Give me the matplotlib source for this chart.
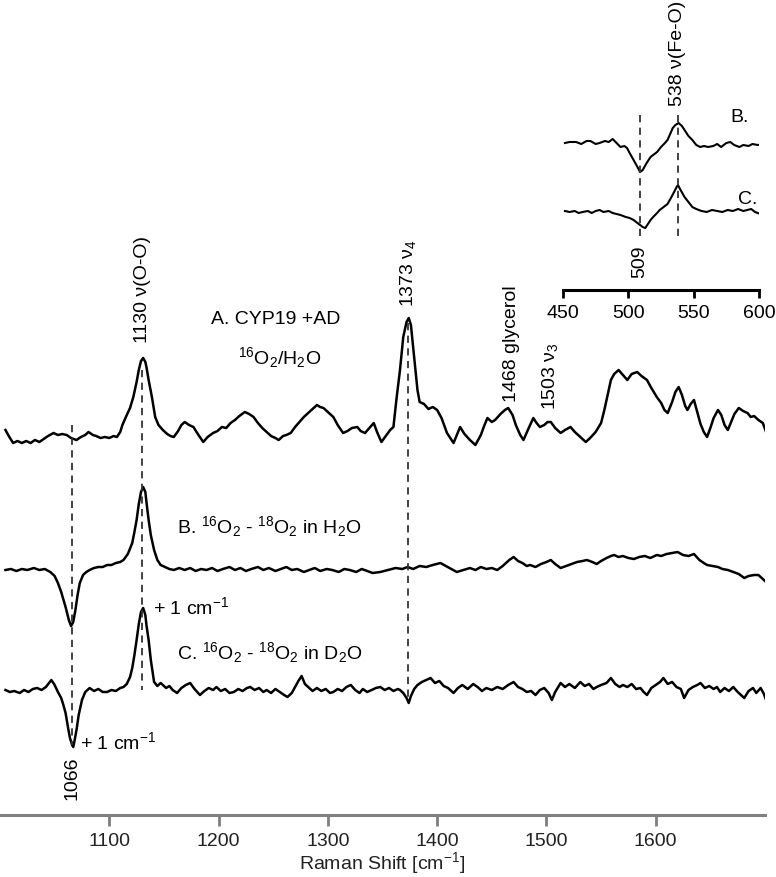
import matplotlib

matplotlib.use("Agg")
import matplotlib.pyplot as plt

plt.rcParams["font.family"] = ["Liberation Sans", "DejaVu Sans"]
plt.rcParams["mathtext.default"] = "regular"

# trace A: 16O2/H2O, relative intensity vs Raman shift (cm-1)
a_x = [1005, 1008, 1012, 1016, 1020, 1024, 1028, 1032, 1036, 1040, 1044, 1049, 1053, 1057, 1061, 1065,
       1070, 1074, 1078, 1081, 1085, 1088, 1092, 1096, 1100, 1104, 1107, 1110, 1112, 1116, 1119, 1122,
       1125, 1127, 1129, 1131, 1133, 1134, 1136, 1139, 1142, 1145, 1149, 1153, 1156, 1159, 1163, 1166,
       1169, 1173, 1177, 1181, 1186, 1190, 1195, 1199, 1203, 1207, 1211, 1215, 1219, 1224, 1228, 1232,
       1236, 1240, 1244, 1248, 1252, 1255, 1259, 1262, 1266, 1270, 1274, 1278, 1282, 1286, 1290, 1293,
       1296, 1300, 1305, 1309, 1314, 1318, 1322, 1327, 1330, 1334, 1338, 1342, 1345, 1349, 1353, 1357,
       1360, 1363, 1366, 1369, 1372, 1374, 1376, 1378, 1380, 1382, 1384, 1388, 1392, 1396, 1400, 1404,
       1409, 1412, 1415, 1418, 1421, 1425, 1430, 1435, 1440, 1443, 1446, 1450, 1453, 1458, 1462, 1465,
       1469, 1472, 1476, 1479, 1483, 1488, 1491, 1494, 1498, 1501, 1504, 1508, 1513, 1517, 1522, 1526,
       1531, 1536, 1540, 1545, 1550, 1553, 1556, 1559, 1562, 1566, 1570, 1574, 1578, 1583, 1587, 1592,
       1596, 1601, 1605, 1608, 1611, 1615, 1618, 1621, 1624, 1627, 1629, 1632, 1635, 1638, 1641, 1644,
       1647, 1650, 1653, 1657, 1660, 1663, 1666, 1669, 1672, 1676, 1680, 1684, 1687, 1690, 1694, 1698,
       1701]
a_y = [10, 4, -3, -1, -3, -1, -3, 0, -2, 1, 4, 7, 5, 6, 5, 2,
       0, 3, 5, 8, 5, 4, 2, 3, 2, 4, 3, 8, 15, 25, 32, 43,
       58, 70, 79, 82, 78, 73, 60, 43, 23, 15, 10, 6, 4, 3, 9, 15,
       18, 15, 13, 6, -2, 3, 7, 9, 13, 12, 17, 20, 24, 28, 26, 23,
       17, 12, 8, 4, 2, 0, 4, 5, 7, 13, 18, 23, 27, 31, 35, 33,
       32, 28, 23, 15, 7, 9, 12, 13, 9, 7, 12, 17, 8, -2, 4, 10,
       13, 43, 70, 103, 118, 122, 115, 93, 70, 50, 38, 36, 31, 33, 30, 22,
       7, 2, -3, 5, 13, 6, 0, -5, 5, 14, 22, 18, 20, 26, 30, 32,
       25, 15, 5, 0, 10, 22, 17, 13, 15, 18, 18, 12, 7, 10, 13, 8,
       3, -2, 2, 8, 17, 30, 45, 60, 66, 70, 65, 60, 66, 68, 64, 60,
       52, 43, 37, 30, 27, 38, 48, 53, 45, 34, 30, 36, 40, 28, 16, 8,
       3, 12, 22, 30, 25, 15, 10, 18, 26, 32, 29, 27, 23, 24, 20, 17,
       8]

# trace B: 16O2 - 18O2 in H2O
b_x = [1005, 1010, 1015, 1020, 1025, 1031, 1036, 1041, 1046, 1050, 1053, 1056, 1060, 1063, 1065, 1067,
       1069, 1071, 1073, 1076, 1079, 1082, 1086, 1090, 1094, 1098, 1102, 1106, 1110, 1113, 1117, 1121,
       1123, 1125, 1127, 1129, 1131, 1133, 1134, 1136, 1138, 1141, 1144, 1147, 1151, 1155, 1159, 1164,
       1169, 1174, 1179, 1184, 1189, 1194, 1199, 1204, 1210, 1215, 1220, 1225, 1230, 1236, 1241, 1246,
       1252, 1257, 1262, 1267, 1272, 1278, 1283, 1288, 1293, 1299, 1304, 1310, 1315, 1320, 1326, 1331,
       1336, 1341, 1348, 1355, 1362, 1368, 1373, 1378, 1384, 1390, 1396, 1403, 1408, 1413, 1418, 1424,
       1430, 1435, 1440, 1445, 1450, 1455, 1460, 1466, 1470, 1474, 1478, 1482, 1485, 1490, 1495, 1500,
       1504, 1508, 1513, 1518, 1523, 1528, 1533, 1537, 1542, 1546, 1550, 1555, 1559, 1562, 1566, 1570,
       1575, 1580, 1585, 1590, 1595, 1601, 1605, 1610, 1615, 1620, 1625, 1630, 1635, 1640, 1644, 1647,
       1652, 1657, 1661, 1666, 1671, 1676, 1681, 1685, 1690, 1694, 1697, 1701]
b_y = [0, 1, -1, 1, 0, 2, 0, 1, -2, -6, -13, -22, -37, -50, -56, -52,
       -40, -25, -13, -5, -2, 0, 2, 3, 3, 5, 5, 7, 8, 10, 16, 27,
       38, 50, 66, 78, 83, 78, 68, 50, 35, 20, 10, 5, 3, 1, 0, 2,
       0, 2, -1, 1, 0, 2, -1, 1, 3, 0, 2, -1, 1, 3, 0, 2,
       -1, 1, 3, 0, 1, -2, 0, 2, -1, 1, 0, -2, 1, 0, -2, 1,
       -1, -3, -2, 0, 2, 1, 3, 1, 4, 3, 5, 7, 4, 1, -2, 0,
       2, 0, 3, 1, 2, 0, 4, 10, 13, 9, 7, 4, 5, 3, 6, 8,
       10, 6, 2, 4, 6, 8, 9, 10, 8, 6, 9, 12, 14, 15, 13, 14,
       12, 11, 13, 14, 12, 15, 14, 16, 17, 18, 15, 14, 16, 10, 7, 5,
       4, 3, 1, 0, -2, -4, -8, -6, -5, -5, -8, -12]

# trace C: 16O2 - 18O2 in D2O
c_x = [1005, 1009, 1013, 1018, 1022, 1026, 1030, 1034, 1038, 1042, 1047, 1050, 1053, 1056, 1058, 1060,
       1062, 1064, 1066, 1067, 1068, 1070, 1072, 1075, 1078, 1082, 1086, 1090, 1094, 1098, 1102, 1106,
       1110, 1113, 1116, 1119, 1121, 1123, 1125, 1127, 1129, 1131, 1133, 1134, 1136, 1138, 1140, 1141,
       1144, 1147, 1149, 1152, 1155, 1158, 1162, 1166, 1170, 1174, 1178, 1183, 1187, 1191, 1195, 1198,
       1202, 1206, 1210, 1214, 1218, 1222, 1226, 1229, 1233, 1237, 1241, 1244, 1248, 1252, 1256, 1260,
       1263, 1267, 1270, 1273, 1276, 1279, 1283, 1286, 1290, 1294, 1298, 1302, 1305, 1309, 1313, 1317,
       1321, 1325, 1329, 1332, 1336, 1340, 1344, 1348, 1352, 1356, 1360, 1364, 1366, 1369, 1372, 1374,
       1376, 1379, 1382, 1386, 1390, 1394, 1398, 1402, 1406, 1410, 1415, 1419, 1423, 1428, 1433, 1437,
       1441, 1445, 1450, 1455, 1460, 1465, 1470, 1474, 1478, 1482, 1486, 1490, 1494, 1498, 1502, 1505,
       1508, 1513, 1517, 1521, 1526, 1531, 1535, 1539, 1543, 1546, 1550, 1555, 1559, 1563, 1567, 1570,
       1574, 1578, 1582, 1586, 1589, 1592, 1596, 1600, 1604, 1607, 1611, 1615, 1619, 1623, 1626, 1630,
       1634, 1638, 1641, 1645, 1649, 1653, 1656, 1659, 1663, 1667, 1671, 1675, 1678, 1681, 1685, 1689,
       1692, 1696, 1699, 1701]
c_y = [0, -2, -1, -3, 0, -2, 1, 2, 0, 3, 10, 5, -2, -8, -15, -23,
       -36, -48, -55, -57, -52, -40, -25, -10, -2, 2, -1, 1, -2, -2, 0, -1,
       2, 3, 6, 13, 22, 35, 50, 66, 78, 82, 75, 65, 50, 30, 15, 8,
       4, 7, 5, 2, 4, 0, -3, 2, 5, 7, 1, -5, -1, 2, 0, 3,
       -1, 1, -3, -2, 1, -1, 2, 3, 0, 2, -2, 0, -3, 1, -2, -5,
       -7, -3, 3, 9, 14, 6, 2, -1, 2, -1, 1, -3, -2, 1, -1, 3,
       5, 0, -3, 1, -2, 0, 2, 3, 0, 2, -1, 1, 0, -3, -8, -13,
       -6, 1, 5, 8, 10, 12, 7, 9, 4, 2, -3, 2, 5, 1, 6, 3,
       -1, 2, 0, 3, 1, 5, 8, 3, 1, -2, -1, -5, 0, 2, -3, -10,
       -2, 7, 3, 6, 2, 8, 4, 6, 1, 3, 5, 7, 12, 6, 3, 5,
       3, 6, 1, 2, -2, -5, 2, 5, 8, 12, 6, 8, 3, 1, -8, 0,
       3, 5, 7, 2, 4, 1, 3, -2, 2, -1, 3, -2, -5, -8, -1, 2,
       -3, 2, -4, -10]

main_offsets = {"A": 375, "B": 245, "C": 125}

# inset: 450-600 cm-1 region
ib_x = [451.5, 455, 460, 464, 468, 471, 475, 478, 482, 485, 488, 491, 494, 497, 499, 501, 504, 507, 509,
        511, 514, 517, 520, 522, 525, 528, 530, 532, 534, 536, 538.5, 541, 543, 546, 549, 552, 555, 558,
        561, 565, 568, 571, 575, 578, 581, 585, 588, 592, 595, 599, 603]
ib_y = [0, 1, 1, -1, 2, 2, -1, 0, 2, 1, 4, 0, -4, -3, -5, -10, -17, -24, -29,
        -27, -20, -14, -11, -9, -4, 0, 3, 9, 15, 18, 20, 17, 13, 7, 3, -2, -4, -3,
        -4, -3, -1, -4, 0, 1, -2, -4, -2, -3, -1, -2, -1]
ic_x = [451.5, 455, 459, 462, 465, 469, 472, 475, 478, 481, 485, 488, 491, 494, 498, 501, 504, 507, 509,
        511, 513, 515, 517, 519, 522, 524, 527, 530, 533, 535, 537, 538, 540, 543, 546, 549, 552, 556,
        560, 564, 568, 572, 576, 580, 584, 588, 591, 594, 597, 601]
ic_y = [1, 0, 1, -1, 0, 1, -1, 1, 2, 0, 1, -1, -2, -3, -5, -6, -8, -11, -13,
        -15, -16, -12, -8, -5, -1, 2, 5, 8, 15, 20, 25, 27, 22, 15, 10, 5, 3, 1,
        0, 2, 1, 0, 2, 1, 3, 1, 2, 3, 0, -2]
inset_offsets = {"B": 147, "C": 78}
inset_ticks = [450, 500, 550, 600]
main_ticks = [1100, 1200, 1300, 1400, 1500, 1600]

FS = 14
W, H = 776, 877
fig = plt.figure(figsize=(W / 100, H / 100), dpi=100)

ax = fig.add_axes([0, 1 - 815 / H, 765 / W, 815 / H])
ax.plot(a_x, [v + main_offsets["A"] for v in a_y], color="black", lw=1.8)
ax.plot(b_x, [v + main_offsets["B"] for v in b_y], color="black", lw=1.8)
ax.plot(c_x, [v + main_offsets["C"] for v in c_y], color="black", lw=1.8)

dash = dict(color="#333333", lw=1.3, ls=(0, (4, 3)))
ax.plot([1066, 1066], [390, 70], **dash)
ax.plot([1130, 1130], [445, 125], **dash)
ax.plot([1373, 1373], [492, 113], **dash)

ax.text(1130, 472, "1130 ν(O-O)", rotation=90, ha="center", va="bottom", fontsize=FS)
ax.text(1373, 508, "1373 ν$_4$", rotation=90, ha="center", va="bottom", fontsize=FS)
ax.text(1468, 413, "1468 glycerol", rotation=90, ha="center", va="bottom", fontsize=FS)
ax.text(1503, 405, "1503 ν$_3$", rotation=90, ha="center", va="bottom", fontsize=FS)
ax.text(1066, 58, "1066", rotation=90, ha="center", va="top", fontsize=FS)
ax.text(1252, 495, "A. CYP19 +AD", ha="center", va="center", fontsize=FS)
ax.text(1256, 457, "$^{16}$O$_2$/H$_2$O", ha="center", va="center", fontsize=FS)
ax.text(1162, 288, "B. $^{16}$O$_2$ - $^{18}$O$_2$ in H$_2$O", ha="left", va="center", fontsize=FS)
ax.text(1162, 162, "C. $^{16}$O$_2$ - $^{18}$O$_2$ in D$_2$O", ha="left", va="center", fontsize=FS)
ax.text(1140, 208, "+ 1 cm$^{-1}$", ha="left", va="center", fontsize=FS)
ax.text(1073, 73, "+ 1 cm$^{-1}$", ha="left", va="center", fontsize=FS)

ax.set_xlim(1000, 1700)
ax.set_ylim(0, 815)
for s in ["left", "right", "top"]:
    ax.spines[s].set_visible(False)
ax.spines["bottom"].set_color("#7f7f7f")
ax.spines["bottom"].set_linewidth(2.2)
ax.set_yticks([])
ax.set_xticks(main_ticks)
ax.tick_params(axis="x", direction="out", length=8, width=2, color="#7f7f7f",
               labelsize=FS, labelcolor="#222222", pad=5)
ax.set_xlabel("Raman Shift [cm$^{-1}$]", fontsize=FS, color="#222222", labelpad=0)
ax.patch.set_alpha(0)

ins = fig.add_axes([563 / W, 1 - 290 / H, 196 / W, 290 / H])
ins.plot(ib_x, [v + inset_offsets["B"] for v in ib_y], color="black", lw=1.5)
ins.plot(ic_x, [v + inset_offsets["C"] for v in ic_y], color="black", lw=1.5)
ins.plot([509, 509], [175, 53], **dash)
ins.plot([538, 538], [175, 52], **dash)
ins.text(538, 289, "538 ν(Fe-O)", rotation=90, ha="center", va="top", fontsize=FS)
ins.text(509, 45, "509", rotation=90, ha="center", va="top", fontsize=FS)
ins.text(585, 173, "B.", ha="center", va="center", fontsize=FS)
ins.text(591, 90, "C.", ha="center", va="center", fontsize=FS)
ins.set_xlim(450, 600)
ins.set_ylim(0, 290)
for s in ["left", "right", "top"]:
    ins.spines[s].set_visible(False)
ins.spines["bottom"].set_linewidth(2.2)
ins.set_yticks([])
ins.set_xticks(inset_ticks)
ins.tick_params(axis="x", direction="out", length=6, width=2, labelsize=FS, pad=5)
ins.patch.set_alpha(0)

fig.savefig("out.png", dpi=100)
plt.close(fig)
